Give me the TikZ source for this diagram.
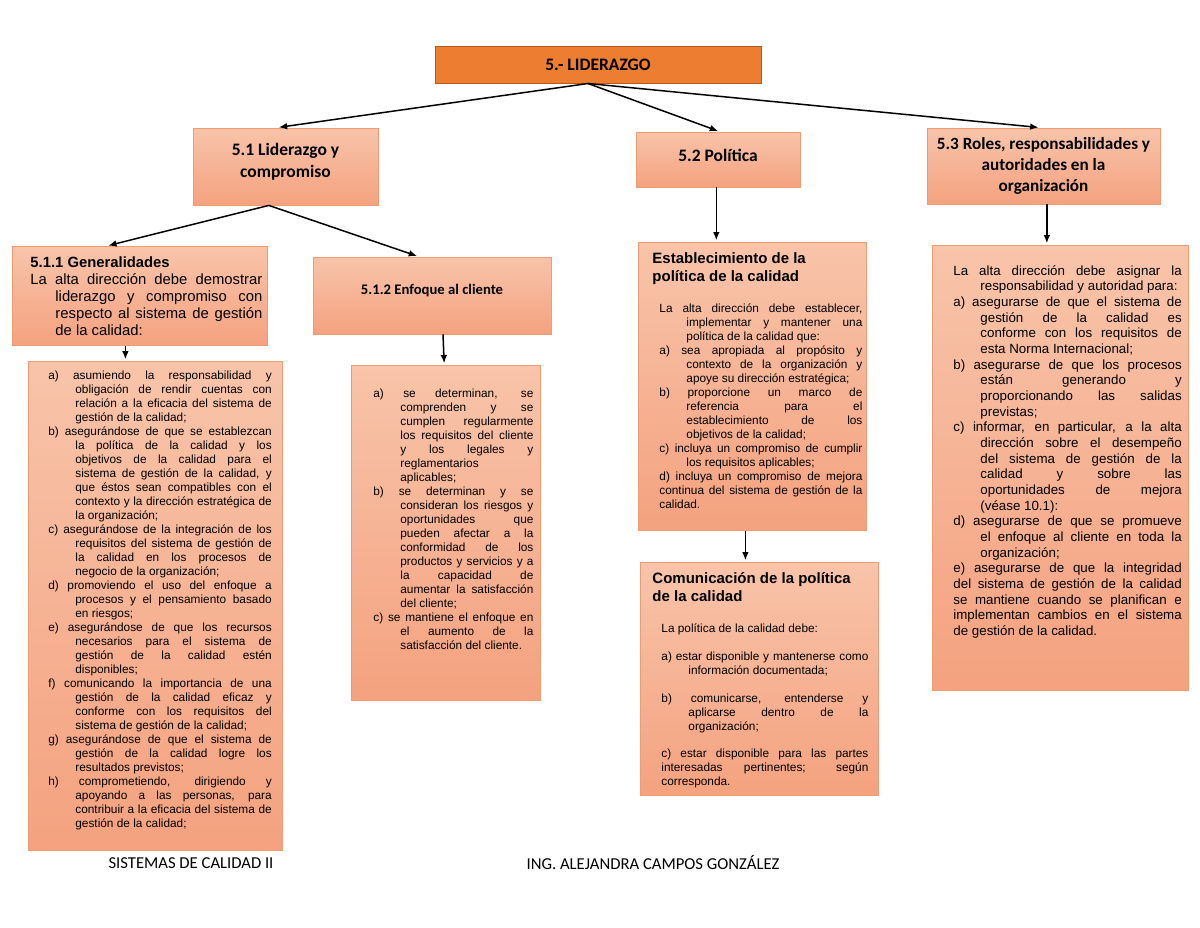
\documentclass[tikz,border=0pt]{standalone}
\usepackage{fontspec}
\setmainfont{Liberation Sans}
\newfontfamily\calibri{Carlito}
\usetikzlibrary{arrows.meta, calc}
\definecolor{topfill}{HTML}{ED7D31}
\definecolor{topedge}{HTML}{B85A1F}
\definecolor{pantop}{HTML}{F8C4AA}
\definecolor{panbot}{HTML}{F4A27F}
\definecolor{panedge}{HTML}{F09C72}

\newcommand{\corte}{\linebreak}
\newcommand{\inciso}[2][16.2pt]{\par\hangindent=#1\hangafter=1 #2\par}
% box width, box height, left pad, top pad, text width, text
\newcommand{\cajatxt}[6]{\hbox to #1{\hspace*{#3}\parbox[c][#2][t]{#5}{%
  \tolerance=10000\emergencystretch=0pt\hyphenpenalty=10000\exhyphenpenalty=10000
  \vspace*{#4}#6}\hss}}

\tikzset{
  jefe/.style={draw=topedge, fill=topfill, line width=0.6pt, inner sep=0pt,
    font=\calibri\bfseries\fontsize{10.5}{13.2}\selectfont, align=center},
  tema/.style={draw=panedge, top color=pantop, bottom color=panbot, line width=0.5pt,
    inner sep=0pt, font=\calibri\bfseries\fontsize{10.5}{13}\selectfont, align=center},
  hoja/.style={draw=panedge, top color=pantop, bottom color=panbot, line width=0.5pt,
    inner sep=0pt, anchor=north west, font=\fontsize{7.1}{8.4}\selectfont},
  flecha/.style={-{Latex[length=5pt,width=4pt]}, line width=0.9pt, shorten >=1pt},
  pie/.style={font=\calibri\fontsize{10}{12}\selectfont, inner sep=0pt}
}

\begin{document}
\begin{tikzpicture}[x=0.6pt, y=-0.6pt]
  \fill[white] (0,0) rectangle (1200,927);
  \useasboundingbox (0,0) rectangle (1200,927);

  % Titles
  \node[jefe, minimum width=195.6pt, minimum height=22.2pt] (lider) at (598,64.5) {5.- LIDERAZGO};
  \node[tema, minimum width=111pt, minimum height=46.2pt, text depth=7pt] (compromiso) at (285.5,166.5) {5.1 Liderazgo y\\compromiso};
  \node[tema, minimum width=98.4pt, minimum height=33pt, text depth=4.8pt] (politica) at (718,159.5) {5.2 Política};
  \node[tema, minimum width=139.8pt, minimum height=45.6pt, font=\calibri\bfseries\fontsize{10.3}{12.6}\selectfont]
    (roles) at (1043.5,166) {5.3 Roles, responsabilidades y\\autoridades en la\\organización};
  \node[tema, minimum width=142.8pt, minimum height=46.2pt, text depth=7pt, font=\calibri\bfseries\fontsize{8.8}{11}\selectfont]
    (cliente) at (432,295.5) {5.1.2 Enfoque al cliente};

  % 5.1 Liderazgo y compromiso
  \node[hoja, font=\fontsize{8.9}{10.2}\selectfont] (generalidades) at (12,246)
    {\cajatxt{153pt}{59.4pt}{10.8pt}{6pt}{139.2pt}{%
      {\bfseries 5.1.1 Generalidades\par}
      \inciso[15pt]{La alta dirección debe demostrar\corte liderazgo y compromiso con\corte respecto al sistema de gestión\corte de la calidad:}}};

  \node[hoja] (listaLid) at (28,361)
    {\cajatxt{152.4pt}{293.4pt}{12pt}{5.7pt}{134pt}{%
      \inciso{a) asumiendo la responsabilidad y\corte obligación de rendir cuentas con\corte relación a la eficacia del sistema de\corte gestión de la calidad;}
      \inciso{b) asegurándose de que se establezcan\corte la política de la calidad y los\corte objetivos de la calidad para el\corte sistema de gestión de la calidad, y\corte que éstos sean compatibles con el\corte contexto y la dirección estratégica de\corte la organización;}
      \inciso{c) asegurándose de la integración de los\corte requisitos del sistema de gestión de\corte la calidad en los procesos de\corte negocio de la organización;}
      \inciso{d) promoviendo el uso del enfoque a\corte procesos y el pensamiento basado\corte en riesgos;}
      \inciso{e) asegurándose de que los recursos\corte necesarios para el sistema de\corte gestión de la calidad estén\corte disponibles;}
      \inciso{f) comunicando la importancia de una\corte gestión de la calidad eficaz y\corte conforme con los requisitos del\corte sistema de gestión de la calidad;}
      \inciso{g) asegurándose de que el sistema de\corte gestión de la calidad logre los\corte resultados previstos;}
      \inciso{h) comprometiendo, dirigiendo y\corte apoyando a las personas, para\corte contribuir a la eficacia del sistema de\corte gestión de la calidad;}}};

  \node[hoja] (listaCli) at (351,365)
    {\cajatxt{113.4pt}{201pt}{13.2pt}{14.1pt}{96pt}{%
      \inciso{a) se determinan, se\corte comprenden y se\corte cumplen regularmente\corte los requisitos del cliente\corte y los legales y\corte reglamentarios\corte aplicables;}
      \inciso{b) se determinan y se\corte consideran los riesgos y\corte oportunidades que\corte pueden afectar a la\corte conformidad de los\corte productos y servicios y a\corte la capacidad de\corte aumentar la satisfacción\corte del cliente;}
      \inciso{c) se mantiene el enfoque en\corte el aumento de la\corte satisfacción del cliente.}}};

  % 5.2 Politica
  \node[hoja] (establece) at (638,242)
    {\cajatxt{136.8pt}{172.8pt}{8.4pt}{6pt}{126pt}{%
      {\bfseries\fontsize{9}{10.8}\selectfont Establecimiento de la\par política de la calidad\par}
      \vspace{10.4pt}\leftskip=4.2pt
      \inciso{La alta dirección debe establecer,\corte implementar y mantener una\corte política de la calidad que:}
      \inciso{a) sea apropiada al propósito y\corte contexto de la organización y\corte apoye su dirección estratégica;}
      \inciso{b) proporcione un marco de\corte referencia para el\corte establecimiento de los\corte objetivos de la calidad;}
      \inciso{c) incluya un compromiso de cumplir\corte los requisitos aplicables;}
      d) incluya un compromiso de mejora\corte continua del sistema de gestión de la\corte calidad.\par}};

  \node[hoja] (comunica) at (640,562)
    {\cajatxt{142.8pt}{139.8pt}{7.2pt}{6pt}{129.6pt}{%
      {\bfseries\fontsize{9}{10.8}\selectfont Comunicación de la política\par de la calidad\par}
      \vspace{10.4pt}\leftskip=5.4pt
      La política de la calidad debe:\par
      \vspace{8.4pt}
      \inciso{a) estar disponible y mantenerse como\corte información documentada;}
      \vspace{8pt}
      \inciso{b) comunicarse, entenderse y\corte aplicarse dentro de la\corte organización;}
      \vspace{8pt}
      c) estar disponible para las partes\corte interesadas pertinentes; según\corte corresponda.\par}};

  % 5.3 Roles
  \node[hoja, font=\fontsize{8}{9.4}\selectfont] (listaRoles) at (932,245)
    {\cajatxt{153.6pt}{267pt}{12.6pt}{12pt}{137pt}{%
      \inciso{La alta dirección debe asignar la\corte responsabilidad y autoridad para:}
      \inciso{a) asegurarse de que el sistema de\corte gestión de la calidad es\corte conforme con los requisitos de\corte esta Norma Internacional;}
      \inciso{b) asegurarse de que los procesos\corte están generando y\corte proporcionando las salidas\corte previstas;}
      \inciso{c) informar, en particular, a la alta\corte dirección sobre el desempeño\corte del sistema de gestión de la\corte calidad y sobre las\corte oportunidades de mejora\corte (véase 10.1):}
      \inciso{d) asegurarse de que se promueve\corte el enfoque al cliente en toda la\corte organización;}
      e) asegurarse de que la integridad\corte del sistema de gestión de la calidad\corte se mantiene cuando se planifican e\corte implementan cambios en el sistema\corte de gestión de la calidad.\par}};

  % Connectors
  \coordinate (salida) at ([xshift=-6pt]lider.south);
  \draw[flecha] (salida) -- ([xshift=-5pt]compromiso.north);
  \draw[flecha] (salida) -- ([xshift=1pt]politica.north);
  \draw[flecha] (salida) -- ([xshift=-2pt]roles.north);
  \coordinate (bajada) at ([xshift=-10pt]compromiso.south);
  \draw[flecha] (bajada) -- ([xshift=-20pt]generalidades.north);
  \draw[flecha] (bajada) -- ([xshift=-8pt]cliente.north);
  \draw[flecha] ([xshift=-8.7pt]generalidades.south) -- ([xshift=-8.7pt]generalidades.south |- listaLid.north);
  \draw[flecha] ([xshift=6.6pt]cliente.south) -- ([xshift=-1pt]listaCli.north);
  \draw[flecha] ([xshift=-1pt]politica.south) -- ([xshift=-1pt]politica.south |- establece.north);
  \draw[flecha] ([xshift=-4.2pt]establece.south) -- ([xshift=-4.2pt]establece.south |- comunica.north);
  \draw[flecha] ([xshift=2pt]roles.south) -- ([xshift=2pt]roles.south |- listaRoles.north);

  % Footer
  \node[pie] (curso) at (191,863) {SISTEMAS DE CALIDAD II};
  \node[pie] (autora) at (653,863) {ING. ALEJANDRA CAMPOS GONZÁLEZ};
\end{tikzpicture}
\end{document}
